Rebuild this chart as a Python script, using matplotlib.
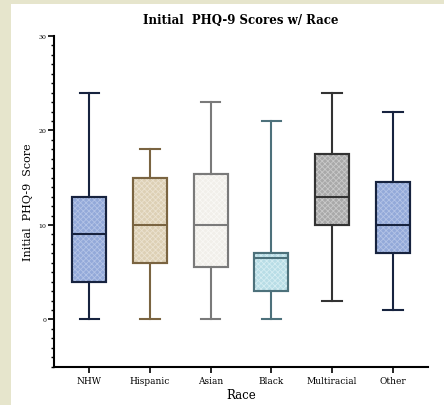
import matplotlib
matplotlib.use('Agg')
import matplotlib.pyplot as plt
from matplotlib.patches import Rectangle, PathPatch
from matplotlib.ticker import MultipleLocator

races = ['NHW', 'Hispanic', 'Asian', 'Black', 'Multiracial', 'Other']
mins = [0, 0, 0, 0, 2, 1]
q1s = [4, 6, 5.5, 3, 10, 7]
medians = [9, 10, 10, 6.5, 13, 10]
q3s = [13, 15, 15.4, 7, 17.5, 14.5]
maxs = [24, 18, 23, 21, 24, 22]

fills = ['#93a9d9', '#ddd0b5', '#f1efea', '#b8dde6', '#a9a9a9', '#93a9d9']
edges = ['#17233f', '#7a6441', '#7a7a7a', '#4d717b', '#333333', '#17233f']
hatch_cols = ['#b3c3e6', '#ebe2d0', '#f9f8f5', '#d5edf2', '#c9c9c9', '#b3c3e6']

plt.rcParams['font.family'] = 'DejaVu Serif'
plt.rcParams['hatch.linewidth'] = 0.6

fig = plt.figure(figsize=(4.44, 4.06), dpi=100)
fig.patch.set_facecolor('#e6e5cc')
# white panel inside the beige frame
fig.patches.append(Rectangle((11/444, 0), 1, 1 - 5/406, transform=fig.transFigure,
                             facecolor='white', edgecolor='none', zorder=-10))

ax = fig.add_axes([54/444, 1 - 367.7/406, (428 - 54)/444, (367.7 - 37)/406])
ax.set_facecolor('none')

stats = []
for i in range(len(races)):
    stats.append({'label': races[i], 'whislo': mins[i], 'q1': q1s[i], 'med': medians[i],
                  'q3': q3s[i], 'whishi': maxs[i], 'fliers': []})

for i in range(len(races)):
    bp = ax.bxp([stats[i]], positions=[i], widths=0.56, patch_artist=True,
                showfliers=False, manage_ticks=False,
                boxprops=dict(facecolor=fills[i], edgecolor=edges[i], linewidth=1.5),
                medianprops=dict(color=edges[i], linewidth=1.5, zorder=4),
                whiskerprops=dict(color=edges[i], linewidth=1.5),
                capprops=dict(color=edges[i], linewidth=1.5),
                capwidths=0.32)
    box = bp['boxes'][0]
    # fine crosshatch texture drawn on top of the fill
    ax.add_patch(PathPatch(box.get_path(), facecolor='none', edgecolor=hatch_cols[i],
                           linewidth=0, hatch='xxxxxx', zorder=2.5))
    ax.add_patch(PathPatch(box.get_path(), facecolor='none', edgecolor=edges[i],
                           linewidth=1.5, zorder=3))

ax.set_xlim(-0.58, 5.58)
ax.set_ylim(-5, 30)
ax.set_xticks(range(len(races)))
ax.set_xticklabels(races, fontsize=6.5)
ax.yaxis.set_major_locator(MultipleLocator(10))
ax.yaxis.set_minor_locator(MultipleLocator(1))
ax.set_yticks([0, 10, 20, 30])
ax.tick_params(axis='y', which='major', labelsize=4.5, length=4, width=1.2, pad=1.5)
ax.tick_params(axis='y', which='minor', length=2.5, width=1.0)
ax.tick_params(axis='x', length=4, width=1.2, pad=3)

for s in ['top', 'right']:
    ax.spines[s].set_visible(False)
for s in ['left', 'bottom']:
    ax.spines[s].set_linewidth(1.5)

ax.set_xlabel('Race', fontsize=8.5, labelpad=2)
ax.set_ylabel('Initial  PHQ-9  Score', fontsize=8, labelpad=4)
ax.set_title('Initial  PHQ-9 Scores w/ Race', fontsize=8.5, fontweight='bold', pad=9)

fig.savefig('out.png', dpi=100, facecolor=fig.get_facecolor())
